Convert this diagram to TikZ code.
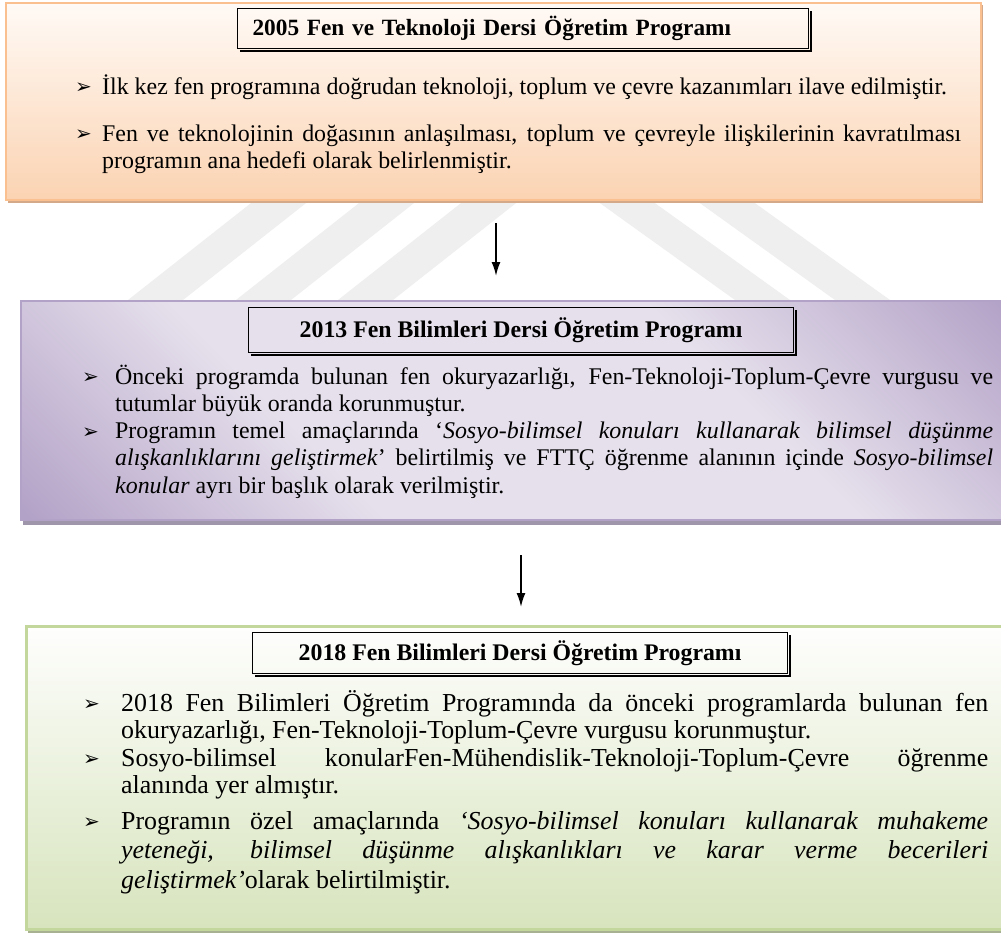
\documentclass[tikz,border=0pt]{standalone}
\usepackage{fontspec}
\setmainfont{Liberation Serif}
\newfontfamily\dingfont{DejaVu Sans}
\usetikzlibrary{arrows.meta,calc}

% panel colours
\definecolor{orBorder}{HTML}{FAC090}
\definecolor{orTop}{HTML}{FFFAF6}
\definecolor{orBot}{HTML}{FBD3B2}
\definecolor{orShadow}{HTML}{D4A98A}
\definecolor{lilacBorder}{HTML}{B3A2C7}
\definecolor{lilacDark}{HTML}{B3A2C7}
\definecolor{lilacLight}{HTML}{E6E0EC}
\definecolor{lilacShadow}{HTML}{A096AC}
\definecolor{grBorder}{HTML}{C3D69B}
\definecolor{grTop}{HTML}{FEFEFD}
\definecolor{grBot}{HTML}{D7E4BD}
\definecolor{grShadow}{HTML}{A8B292}
\definecolor{wmark}{HTML}{EFEFEF}

% dark corners top-right and bottom-left, light diagonal band
\pgfdeclareverticalshading{lilacdiag}{100bp}{color(0bp)=(lilacDark); color(15bp)=(lilacDark); color(36bp)=(lilacLight); color(64bp)=(lilacLight); color(85bp)=(lilacDark); color(100bp)=(lilacDark)}

\newcommand\headfont{\fontsize{23.8}{28}\selectfont\bfseries}

\newlength\bulind
\newcommand\bitem{\noindent\hangindent=\bulind\hangafter=1%
  \makebox[\bulind][l]{\raisebox{0.5pt}{\dingfont\fontsize{20}{20}\selectfont ➢}}}

\tikzset{
  panel/.style={anchor=north west, inner sep=0pt, line width=2pt},
  panelA/.style={panel, draw=orBorder, top color=orTop, bottom color=orBot},
  panelB/.style={panel, draw=lilacBorder, shading=lilacdiag, shading angle=-45},
  panelC/.style={panel, draw=grBorder, line width=3pt, top color=grTop, bottom color=grBot},
  headbox/.style={anchor=north west, draw=black, line width=1.1pt, inner sep=0pt, font=\headfont},
  bodytext/.style={anchor=base west, inner sep=0pt, align=justify},
  flowarrow/.style={line width=1.8pt, -{Latex[length=14pt,width=9pt]}},
}

\newcommand\headshadow[1]{%
  \draw[line width=2.4pt] ($(#1.south west)+(3,1.6)$) -- ($(#1.south east)+(1.6,1.6)$) -- ($(#1.north east)+(1.6,3)$);}

\begin{document}
\begin{tikzpicture}[x=1pt,y=-1pt]
\hyphenpenalty=10000 \exhyphenpenalty=10000 \tolerance=9999
\clip (0,0) rectangle (1001,935);
\fill[white] (0,0) rectangle (1001,935);

% faint background mark between the panels
\foreach \b in {128,236,338}
  \fill[wmark] (\b,300) -- (\b+55,300) -- (\b+187,196) -- (\b+132,196) -- cycle;
\foreach \t in {590,690}
  \fill[wmark] (\t,196) -- (\t+55,196) -- (\t+200,300) -- (\t+145,300) -- cycle;

% panel shadows
\fill[orShadow] (8,5) rectangle (983,203);
\fill[lilacShadow] (23,303) rectangle (1010,525);
\fill[grShadow] (28,628) rectangle (1010,933);

% panels
\node[panelA, minimum width=975pt, minimum height=197pt] (p1) at (5,2) {};
\node[panelB, minimum width=990pt, minimum height=219pt] (p2) at (20,300) {};
\node[panelC, minimum width=985pt, minimum height=303pt] (p3) at (25,625) {};

% headings
\node[headbox, minimum width=571pt, minimum height=40pt, text width=541pt, inner xsep=15pt, align=left,
      font=\fontsize{23.3}{28}\selectfont\bfseries] (h1) at (237,8)
  {2005 Fen ve Teknoloji Dersi Öğretim Programı};
\headshadow{h1}
\node[headbox, minimum width=545pt, minimum height=45pt] (h2) at (248,307)
  {2013 Fen Bilimleri Dersi Öğretim Programı};
\headshadow{h2}
\node[headbox, minimum width=535pt, minimum height=41pt] (h3) at (252,632)
  {2018 Fen Bilimleri Dersi Öğretim Programı};
\headshadow{h3}

% first panel text
\node[bodytext, text width=886pt, font=\fontsize{23.9}{27}\selectfont] (b1) at (75,94) {\setlength\bulind{27pt}%
\bitem İlk kez fen programına doğrudan teknoloji, toplum ve çevre kazanımları ilave edilmiştir.\par
\vspace{20pt}%
\bitem Fen ve teknolojinin doğasının anlaşılması, toplum ve çevreyle ilişkilerinin kavratılması\linebreak
programın ana hedefi olarak belirlenmiştir.\par};

% second panel text
\node[bodytext, text width=911pt, font=\fontsize{23.9}{27.3}\selectfont] (b2) at (82,384) {\setlength\bulind{33pt}%
\bitem Önceki programda bulunan fen okuryazarlığı, Fen-Teknoloji-Toplum-Çevre vurgusu ve\linebreak
tutumlar büyük oranda korunmuştur.\par
\bitem Programın temel amaçlarında ‘\textit{Sosyo-bilimsel konuları kullanarak bilimsel düşünme}\linebreak
\textit{alışkanlıklarını geliştirmek}’ belirtilmiş ve FTTÇ öğrenme alanının içinde \textit{Sosyo-bilimsel}\linebreak
\textit{konular} ayrı bir başlık olarak verilmiştir.\par};

% third panel text
\node[bodytext, text width=905pt, font=\fontsize{25.9}{27.5}\selectfont] (b3) at (83,711) {\setlength\bulind{38pt}%
\bitem 2018 Fen Bilimleri Öğretim Programında da önceki programlarda bulunan fen\linebreak
okuryazarlığı, Fen-Teknoloji-Toplum-Çevre vurgusu korunmuştur.\par
\bitem Sosyo-bilimsel konularFen-Mühendislik-Teknoloji-Toplum-Çevre öğrenme\linebreak
alanında yer almıştır.\par
\vspace{6pt}%
{\fontsize{25.9}{29.5}\selectfont
\bitem Programın özel amaçlarında \textit{‘Sosyo-bilimsel konuları kullanarak muhakeme}\linebreak
\textit{yeteneği, bilimsel düşünme alışkanlıkları ve karar verme becerileri}\linebreak
\textit{geliştirmek’}olarak belirtilmiştir.\par}};

% connectors
\coordinate (a1s) at ($(p1.south)+(2.5,22)$);
\coordinate (a2s) at ($(p2.south)+(5,34)$);
\draw[flowarrow] (a1s) -- ($(a1s |- p2.north)+(0,-24)$);
\draw[flowarrow] (a2s) -- ($(a2s |- p3.north)+(0,-18)$);
\end{tikzpicture}
\end{document}
